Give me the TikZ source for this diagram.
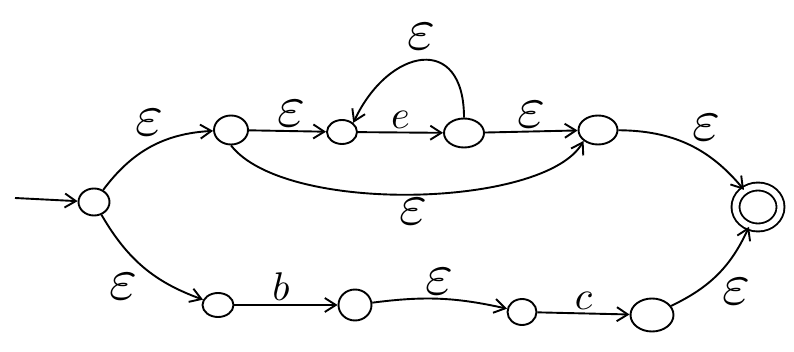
\documentclass[tikz,border=0pt]{standalone}
\usepackage{graphicx}
\usetikzlibrary{arrows.meta,shapes.geometric}
\newcommand{\eps}{\scalebox{6}{$\varepsilon$}}
\newcommand{\sym}[1]{\scalebox{4}{$#1$}}

\begin{document}
\begin{tikzpicture}[x=1pt,y=1pt,line width=1.9pt,>={Straight Barb[length=11pt,width=14pt]},
  st/.style={ellipse,draw,inner sep=0pt}]
\useasboundingbox (0,0) rectangle (794,-352);
\node [st,minimum width=31pt,minimum height=27pt] (s) at (94,-202) {};
\node [st,minimum width=34pt,minimum height=29pt] (q1) at (231,-130) {};
\node [st,minimum width=30pt,minimum height=24pt] (q2) at (342,-132) {};
\node [st,minimum width=40pt,minimum height=29pt] (q3) at (464,-133) {};
\node [st,minimum width=39pt,minimum height=29pt] (q4) at (598,-130) {};
\node [st,double,double distance=6pt,minimum width=45pt,minimum height=41pt] (f) at (758,-207) {};
\node [st,minimum width=31pt,minimum height=24pt] (q5) at (218,-305) {};
\node [st,minimum width=33pt,minimum height=31pt] (q6) at (355,-305) {};
\node [st,minimum width=29pt,minimum height=26pt] (q7) at (522,-312) {};
\node [st,minimum width=43pt,minimum height=33pt] (q8) at (652,-315) {};
\coordinate (in) at (15,-198);

\draw[->] (in) -- (s);
\draw[->] (s) to[bend left=25] node[pos=0.65,above left] {\eps} (q1);
\draw[->] (q1) -- node[above,pos=0.55] {\eps} (q2);
\draw[->] (q2) -- node[above] {\sym{e}} (q3);
\draw[->] (q3.north) .. controls +(0,85) and +(35,75) .. node[midway,above=6pt] {\eps} (q2.north east);
\draw[->] (q3) -- node[above] {\eps} (q4);
\draw[->] (q4) to[bend left=25] node[above right] {\eps} (f);
\draw[->] (q1.south) .. controls (285,-215) and (545,-208) .. node[below,pos=0.5] {\eps} (q4.south west);
\draw[->] (s) to[bend right=20] node[pos=0.5,below left=2pt] {\eps} (q5);
\draw[->] (q5) -- node[above,pos=0.45] {\sym{b}} (q6);
\draw[->] (q6) to[bend left=10] node[above] {\eps} (q7);
\draw[->] (q7) -- node[above] {\sym{c}} (q8);
\draw[->] (q8) to[bend right=20] node[below right] {\eps} (f);
\end{tikzpicture}
\end{document}
